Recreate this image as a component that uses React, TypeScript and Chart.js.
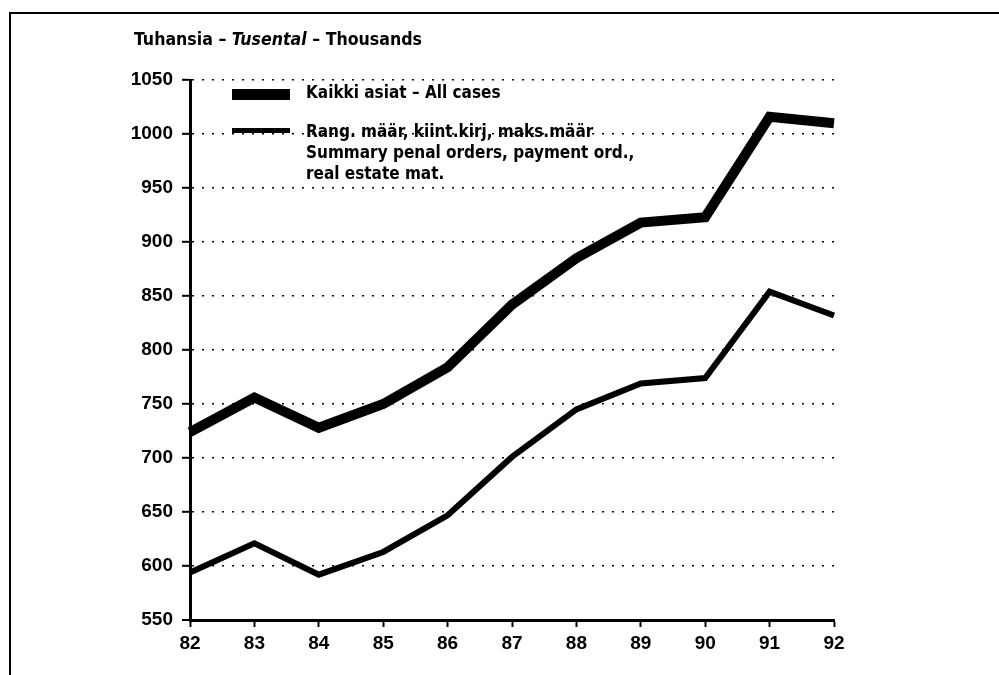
import React, { useEffect, useRef } from "react";
import { Chart, registerables } from "chart.js";

Chart.register(...registerables);

const years = ["82", "83", "84", "85", "86", "87", "88", "89", "90", "91", "92"];
const allCases = [724, 756, 728, 750, 784, 842, 885, 918, 923, 1016, 1010];
const summaryOrders = [594, 621, 592, 613, 647, 701, 745, 769, 774, 854, 832];
const yMin = 550;
const yMax = 1050;
const yStep = 50;
const titleParts = ["Tuhansia – ", "Tusental", " – Thousands"];
const legendAll = ["Kaikki asiat – All cases"];
const legendSummary = [
  "Rang. määr, kiint.kirj, maks.määr",
  "Summary penal orders, payment ord.,",
  "real estate mat.",
];

const NARROW = "'Liberation Sans Narrow', 'DejaVu Sans Condensed', 'Liberation Sans', Arial, sans-serif";
const SANS = "'Liberation Sans', Arial, sans-serif";

const decorPlugin = {
  id: "decor",
  afterDraw(chart: any) {
    const ctx = chart.ctx;
    ctx.save();
    // frame
    ctx.fillStyle = "#000";
    ctx.fillRect(9, 12, 990, 2);
    ctx.fillRect(9, 12, 2, 663);
    // title
    ctx.textBaseline = "alphabetic";
    ctx.textAlign = "left";
    let x = 134;
    const ty = 45;
    titleParts.forEach((p, i) => {
      ctx.font = (i === 1 ? "italic " : "") + "bold 17.6px " + NARROW;
      ctx.fillText(p, x, ty);
      x += ctx.measureText(p).width;
    });
    // legend
    ctx.fillRect(232, 89, 58, 11);
    ctx.fillRect(232, 128, 58, 5);
    ctx.font = "bold 17px " + NARROW;
    ctx.textBaseline = "middle";
    legendAll.forEach((t, i) => ctx.fillText(t, 306, 94 + i * 21));
    legendSummary.forEach((t, i) => ctx.fillText(t, 306, 133 + i * 21));
    ctx.restore();
  },
};

export default function App() {
  const ref = useRef<HTMLCanvasElement>(null);
  useEffect(() => {
    if (!ref.current) return;
    const chart = new Chart(ref.current, {
      type: "line",
      data: {
        labels: years,
        datasets: [
          {
            label: legendAll[0],
            data: allCases,
            borderColor: "#000",
            borderWidth: 10,
            pointRadius: 0,
            tension: 0,
            borderJoinStyle: "miter",
            borderCapStyle: "butt",
          },
          {
            label: legendSummary.join(" "),
            data: summaryOrders,
            borderColor: "#000",
            borderWidth: 6,
            pointRadius: 0,
            tension: 0,
            borderJoinStyle: "miter",
            borderCapStyle: "butt",
          },
        ],
      },
      options: {
        responsive: false,
        animation: false,
        layout: { padding: { left: 0, top: 80, right: 165, bottom: 15 } },
        plugins: { legend: { display: false }, tooltip: { enabled: false } },
        scales: {
          x: {
            offset: false,
            afterFit: (s: any) => {
              s.height = 40;
            },
            border: { color: "#000", width: 3 },
            grid: {
              drawOnChartArea: false,
              drawTicks: true,
              tickLength: 7,
              tickColor: "#000",
              tickWidth: 2,
            },
            ticks: {
              color: "#000",
              font: { family: SANS, size: 19, weight: "bold" },
              padding: 5,
              maxRotation: 0,
              autoSkip: false,
            },
          },
          y: {
            min: yMin,
            max: yMax,
            afterFit: (s: any) => {
              s.width = 190;
            },
            border: { color: "#000", width: 3, dash: [2, 8] },
            grid: {
              color: "#000",
              lineWidth: (c: any) => (c.tick && c.tick.value === yMin ? 0 : 1.6),
              tickBorderDash: [],
              tickColor: "#000",
              tickWidth: 2,
              tickLength: 8,
            },
            ticks: {
              stepSize: yStep,
              color: "#000",
              font: { family: SANS, size: 19, weight: "bold" },
              padding: 9,
              callback: (v: any) => String(v),
            },
          },
        },
      },
      plugins: [decorPlugin],
    });
    return () => chart.destroy();
  }, []);
  return (
    <div style={{ position: "absolute", left: 0, top: 0, width: 999, height: 675, background: "#fff" }}>
      <canvas ref={ref} width={999} height={675} style={{ display: "block" }} />
    </div>
  );
}
